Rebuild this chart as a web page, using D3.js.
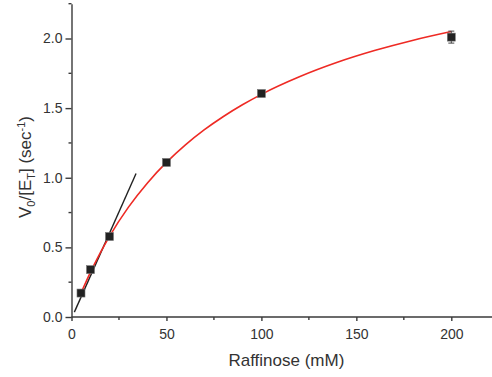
<!DOCTYPE html>
<head>
  <meta charset="utf-8">
  <style>
    body { margin: 0; background: #fff; }
    svg { display: block; font-family: 'Liberation Sans', Arial, sans-serif; }
  </style>
  <script src="https://cdn.jsdelivr.net/npm/d3@7"></script>
</head>
<body>
<div id=chart></div>
<script>
// measured points
const conc = [5, 10, 20, 50, 100, 200]
const rate = [0.172, 0.34, 0.578, 1.11, 1.605, 2.01]
const rateErr = [0.01, 0.012, 0.012, 0.01, 0.012, 0.043]

// fitted curve
const fitX = [5, 10, 15, 20, 30, 40, 50, 60, 70, 80, 90, 100, 120, 140, 160, 180, 200]
const fitY = [0.171, 0.322, 0.457, 0.579, 0.789, 0.963, 1.11, 1.236, 1.345, 1.44, 1.524, 1.599, 1.725, 1.829, 1.915, 1.988, 2.05]

// initial slope line
const tanX = [1.5, 34]
const tanY = [0.035, 1.03]

const xTicks = [0, 50, 100, 150, 200]
const xMinor = [25, 75, 125, 175, 225]
const yTicks = [0, 0.5, 1.0, 1.5, 2.0]
const yMinor = [0.25, 0.75, 1.25, 1.75, 2.25]

const width = 492, height = 377
const axisColor = '#3a3a3a'

const x = d3.scaleLinear().domain([0, 222]).range([71.5, 71.5 + 222 * 1.899])
const y = d3.scaleLinear().domain([0, 2.25]).range([317, 317 - 2.25 * 139.25])

const svg = d3.select('#chart').append('svg')
  .attr('width', width).attr('height', height)
  .attr('viewBox', [0, 0, width, height])

// axes
const gx = svg.append('g').attr('transform', `translate(0,${y(0)})`)
  .call(d3.axisBottom(x).tickValues(xTicks).tickFormat(d3.format('d')).tickSize(4).tickSizeOuter(0).tickPadding(8))
gx.append('g').selectAll('line').data(xMinor).join('line')
  .attr('x1', d => x(d)).attr('x2', d => x(d)).attr('y1', 0).attr('y2', 3)

const gy = svg.append('g').attr('transform', `translate(${x(0)},0)`)
  .call(d3.axisLeft(y).tickValues(yTicks).tickFormat(d3.format('.1f')).tickSize(6).tickSizeOuter(0).tickPadding(3))
gy.append('g').selectAll('line').data(yMinor).join('line')
  .attr('y1', d => y(d)).attr('y2', d => y(d)).attr('x1', 0).attr('x2', -3)

svg.selectAll('.domain, .tick line, g > g > line')
  .attr('stroke', axisColor).attr('stroke-width', 1.4)
svg.selectAll('.tick text').attr('fill', '#333').attr('font-size', 14)
gx.select('.domain').attr('d', `M${x(0)},0H${width}`)

// axis titles
svg.append('text')
  .attr('x', (x(0) + x(200)) / 2 + 25).attr('y', 366)
  .attr('text-anchor', 'middle').attr('font-size', 17).attr('fill', '#333')
  .text('Raffinose (mM)')

const yl = svg.append('text')
  .attr('transform', `translate(31,167) rotate(-90)`)
  .attr('text-anchor', 'middle').attr('font-size', 17).attr('fill', '#333')
yl.append('tspan').text('V')
yl.append('tspan').attr('font-size', 11).attr('dy', 4).text('0')
yl.append('tspan').attr('dy', -4).text('/[E')
yl.append('tspan').attr('font-size', 11).attr('dy', 4).text('T')
yl.append('tspan').attr('dy', -4).text('] (sec')
yl.append('tspan').attr('font-size', 11).attr('dy', -6).text('-1')
yl.append('tspan').attr('dy', 6).text(')')

// tangent line
svg.append('path')
  .attr('d', d3.line()(tanX.map((d, i) => [x(d), y(tanY[i])])))
  .attr('stroke', '#222').attr('stroke-width', 1.4).attr('fill', 'none')

// fit curve
svg.append('path')
  .attr('d', d3.line().curve(d3.curveMonotoneX)(fitX.map((d, i) => [x(d), y(fitY[i])])))
  .attr('stroke', '#ee2a24').attr('stroke-width', 1.6).attr('fill', 'none')

// error bars
const eb = svg.append('g').attr('stroke', '#444').attr('stroke-width', 1)
conc.forEach((c, i) => {
  const cx = x(c), top = y(rate[i] + rateErr[i]), bot = y(rate[i] - rateErr[i])
  eb.append('line').attr('x1', cx).attr('x2', cx).attr('y1', top).attr('y2', bot)
  eb.append('line').attr('x1', cx - 3).attr('x2', cx + 3).attr('y1', top).attr('y2', top)
  eb.append('line').attr('x1', cx - 3).attr('x2', cx + 3).attr('y1', bot).attr('y2', bot)
})

// markers
svg.append('g').selectAll('rect').data(conc).join('rect')
  .attr('x', d => x(d) - 4).attr('y', (d, i) => y(rate[i]) - 4)
  .attr('width', 8).attr('height', 8)
  .attr('fill', '#222').attr('stroke', '#777').attr('stroke-width', 0.6)
</script>
</body>
